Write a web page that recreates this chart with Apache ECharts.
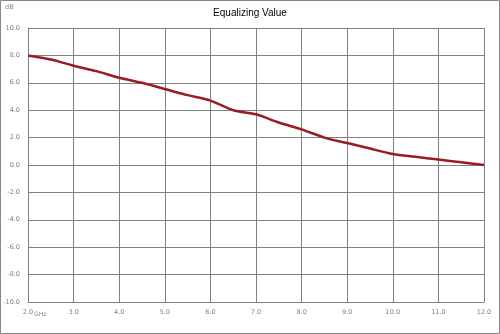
<!DOCTYPE html>
<html><head><meta charset="utf-8">
<script src="https://cdn.jsdelivr.net/npm/echarts@6/dist/echarts.min.js"></script>
<style>html,body{margin:0;padding:0;background:#fff}#c{width:500px;height:334px}</style>
</head><body><div id="c"></div>
<script>
var freqs = [2.0,2.5,3.0,3.5,4.0,4.5,5.0,5.5,6.0,6.5,7.0,7.5,8.0,8.5,9.0,9.5,10.0,10.5,11.0,11.5,12.0];
var values = [8.0,7.7,7.25,6.85,6.37,6.0,5.55,5.1,4.7,4.0,3.7,3.1,2.6,2.0,1.6,1.2,0.8,0.6,0.4,0.2,0.0];
var title = 'Equalizing Value';
var xUnit = 'GHz', yUnit = 'dB';

var chart = echarts.init(document.getElementById('c'));
var lab = {fontFamily:'DejaVu Sans', fontSize:6.5, color:'#7f7f7f'};
chart.setOption({
  animation:false,
  title:{text:title, left:'center', top:3, textStyle:{fontFamily:'Liberation Sans', fontSize:10, fontWeight:'normal', color:'#000'}},
  grid:{left:28, right:16, top:28, bottom:32},
  xAxis:{type:'value', min:2, max:12, interval:1,
    axisLine:{onZero:false, lineStyle:{color:'#808080', width:1}},
    axisTick:{show:false},
    splitLine:{show:true, lineStyle:{color:'#808080', width:1}},
    axisLabel:Object.assign({margin:7, formatter:function(v){return v.toFixed(1);}}, lab)},
  yAxis:{type:'value', min:-10, max:10, interval:2,
    axisLine:{show:true, lineStyle:{color:'#808080', width:1}},
    axisTick:{show:false},
    splitLine:{show:true, lineStyle:{color:'#808080', width:1}},
    axisLabel:Object.assign({margin:8, formatter:function(v){return v.toFixed(1);}}, lab)},
  graphic:[
    {type:'rect', shape:{x:0.5,y:0.5,width:499,height:333}, style:{fill:'none', stroke:'#888', lineWidth:1}, silent:true},
    {type:'text', left:5, top:4, style:{text:yUnit, fontFamily:'DejaVu Sans', fontSize:6.5, fill:'#7f7f7f'}},
    {type:'text', left:34, top:311, style:{text:xUnit, fontFamily:'DejaVu Sans', fontSize:6, fill:'#7f7f7f'}}
  ],
  series:[{type:'line', data:freqs.map(function(f,i){return [f, values[i]];}), smooth:0.3, showSymbol:false,
    lineStyle:{color:'#9b1b22', width:2.5}}]
});
</script></body></html>
